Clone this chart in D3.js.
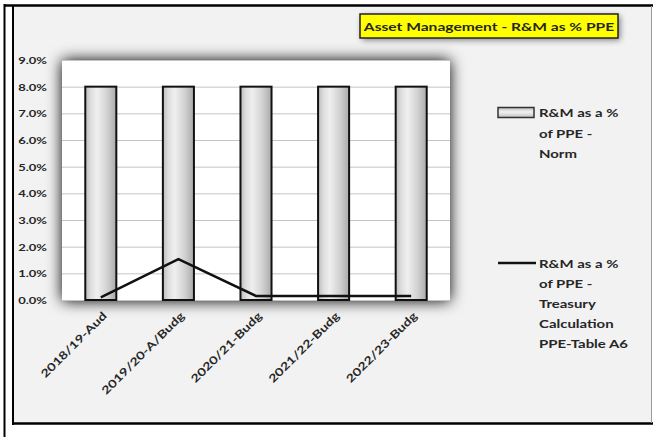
<!DOCTYPE html>
<html>
<head>
<meta charset="utf-8">
<script src="https://cdn.jsdelivr.net/npm/d3@7"></script>
<style>
  body { margin: 0; background: #ffffff; }
  svg { display: block; }
  text { font-family: Lato, "Open Sans", sans-serif; font-weight: 700; fill: #262626; }
</style>
</head>
<body>
<svg id="chart" width="653" height="437"></svg>
<script>
// Chart data
const categories = ["2018/19-Aud", "2019/20-A/Budg", "2020/21-Budg", "2021/22-Budg", "2022/23-Budg"];
const normValues = [8.0, 8.0, 8.0, 8.0, 8.0];          // R&M as a % of PPE - Norm
const treasuryValues = [0.1, 1.53, 0.15, 0.15, 0.15];  // R&M as a % of PPE - Treasury calculation
const yTicks = [0, 1, 2, 3, 4, 5, 6, 7, 8, 9];
const titleText = "Asset Management - R&M as % PPE";
const legendNorm = ["R&M as a %", "of PPE -", "Norm"];
const legendTreasury = ["R&M as a %", "of PPE -", "Treasury", "Calculation", "PPE-Table A6"];

const SX = 1.3; // horizontal stretch applied to the labels

const svg = d3.select("#chart");
const defs = svg.append("defs");

// soft drop shadows
const plotShadow = defs.append("filter").attr("id", "plotShadow")
  .attr("x", "-30%").attr("y", "-30%").attr("width", "160%").attr("height", "160%");
plotShadow.append("feGaussianBlur").attr("stdDeviation", 7.5);

const boxShadow = defs.append("filter").attr("id", "boxShadow")
  .attr("x", "-20%").attr("y", "-60%").attr("width", "140%").attr("height", "220%");
boxShadow.append("feGaussianBlur").attr("stdDeviation", 3);

// cylinder-like shading for the columns
const barGrad = defs.append("linearGradient").attr("id", "barGrad")
  .attr("x1", 0).attr("x2", 1).attr("y1", 0).attr("y2", 0);
[[0, "#bcbcbc"], [0.18, "#dedede"], [0.38, "#efefef"], [0.7, "#d2d2d2"], [1, "#aaaaaa"]]
  .forEach(([o, c]) => barGrad.append("stop").attr("offset", o).attr("stop-color", c));

const swatchGrad = defs.append("linearGradient").attr("id", "swatchGrad")
  .attr("x1", 0).attr("x2", 0).attr("y1", 0).attr("y2", 1);
[[0, "#bdbdbd"], [0.45, "#f2f2f2"], [1, "#c0c0c0"]]
  .forEach(([o, c]) => swatchGrad.append("stop").attr("offset", o).attr("stop-color", c));

// outer frame
svg.append("line").attr("x1", 4.5).attr("x2", 4.5).attr("y1", 4).attr("y2", 437)
  .attr("stroke", "#000").attr("stroke-width", 2);

// chart area
svg.append("rect").attr("x", 13).attr("y", 6).attr("width", 638).attr("height", 418)
  .attr("fill", "#f2f2f2").attr("stroke", "none");
svg.append("line").attr("x1", 4).attr("x2", 653).attr("y1", 5.5).attr("y2", 5.5)
  .attr("stroke", "#000").attr("stroke-width", 2.5);
svg.append("line").attr("x1", 13).attr("x2", 13).attr("y1", 5).attr("y2", 425)
  .attr("stroke", "#000").attr("stroke-width", 2);
svg.append("line").attr("x1", 12).attr("x2", 653).attr("y1", 423.5).attr("y2", 423.5)
  .attr("stroke", "#000").attr("stroke-width", 2.5);
svg.append("line").attr("x1", 651.5).attr("x2", 651.5).attr("y1", 6).attr("y2", 423)
  .attr("stroke", "#9a9a9a").attr("stroke-width", 1);

// scales
const plot = { left: 62, right: 450, top: 60, bottom: 301 };
const x = d3.scaleBand().domain(categories)
  .range([plot.left, plot.right]).paddingInner(0.6).paddingOuter(0.3);
const y = d3.scaleLinear().domain([0, 9]).range([300, plot.top]);

// plot area with shadow
svg.append("rect")
  .attr("x", plot.left).attr("y", plot.top)
  .attr("width", plot.right - plot.left).attr("height", plot.bottom - plot.top)
  .attr("fill", "#000").attr("opacity", 1).attr("filter", "url(#plotShadow)");
svg.append("rect")
  .attr("x", plot.left).attr("y", plot.top)
  .attr("width", plot.right - plot.left).attr("height", plot.bottom - plot.top)
  .attr("fill", "#ffffff");

// gridlines
const grid = svg.append("g").attr("transform", `translate(${plot.left},0)`)
  .call(d3.axisLeft(y).tickValues(yTicks).tickSize(-(plot.right - plot.left)).tickFormat(""));
grid.select(".domain").remove();
grid.selectAll(".tick line").attr("stroke", "#c4c4c4").attr("stroke-width", 1);

// y axis labels
const yAxis = svg.append("g").attr("transform", "translate(47,0)")
  .call(d3.axisLeft(y).tickValues(yTicks).tickSize(0).tickPadding(0)
    .tickFormat(d => d.toFixed(1) + "%"));
yAxis.select(".domain").remove();
yAxis.selectAll(".tick text")
  .attr("x", 0).attr("dy", "0.36em")
  .attr("transform", `scale(${SX},1)`)
  .style("font-size", "10px")
  .attr("fill", "#262626");

// columns
svg.append("g").selectAll("rect").data(normValues).join("rect")
  .attr("x", (d, i) => x(categories[i]))
  .attr("y", d => y(d))
  .attr("width", x.bandwidth())
  .attr("height", d => y(0) - y(d))
  .attr("fill", "url(#barGrad)")
  .attr("stroke", "#111").attr("stroke-width", 2);

// treasury line
const line = d3.line()
  .x((d, i) => x(categories[i]) + x.bandwidth() / 2)
  .y(d => y(d));
svg.append("path").datum(treasuryValues)
  .attr("d", line)
  .attr("fill", "none").attr("stroke", "#111").attr("stroke-width", 2.5);

// x axis labels, slanted
const xAxis = svg.append("g").attr("transform", "translate(0,311)")
  .call(d3.axisBottom(x).tickSize(0).tickPadding(0));
xAxis.select(".domain").remove();
xAxis.selectAll(".tick text")
  .attr("x", 0).attr("y", 0).attr("dy", "0.72em")
  .attr("text-anchor", "end")
  .attr("transform", `translate(1,0) rotate(-45) scale(${SX},1)`)
  .style("font-size", "11px")
  .attr("fill", "#262626");

// title
const titleG = svg.append("g");
titleG.append("rect").attr("x", 362).attr("y", 16).attr("width", 258).attr("height", 24)
  .attr("fill", "#000").attr("opacity", 0.5).attr("filter", "url(#boxShadow)");
titleG.append("rect").attr("x", 360).attr("y", 14).attr("width", 258).attr("height", 24)
  .attr("fill", "#ffff00").attr("stroke", "#222").attr("stroke-width", 1.5);
titleG.append("text")
  .attr("transform", `translate(489,30.5) scale(${SX},1)`)
  .attr("text-anchor", "middle")
  .style("font-size", "12px")
  .text(titleText);

// legend
const legend = svg.append("g");
legend.append("rect").attr("x", 498).attr("y", 107.5).attr("width", 36).attr("height", 10)
  .attr("fill", "url(#swatchGrad)").attr("stroke", "#333").attr("stroke-width", 1.5);
legend.append("g").selectAll("text").data(legendNorm).join("text")
  .attr("transform", (d, i) => `translate(539,${117 + i * 20.5}) scale(${SX},1)`)
  .style("font-size", "11.5px")
  .text(d => d);

legend.append("line").attr("x1", 498).attr("x2", 536).attr("y1", 263).attr("y2", 263)
  .attr("stroke", "#111").attr("stroke-width", 2.5);
legend.append("g").selectAll("text").data(legendTreasury).join("text")
  .attr("transform", (d, i) => `translate(539,${268 + i * 20}) scale(${SX},1)`)
  .style("font-size", "11.5px")
  .text(d => d);
</script>
</body>
</html>
